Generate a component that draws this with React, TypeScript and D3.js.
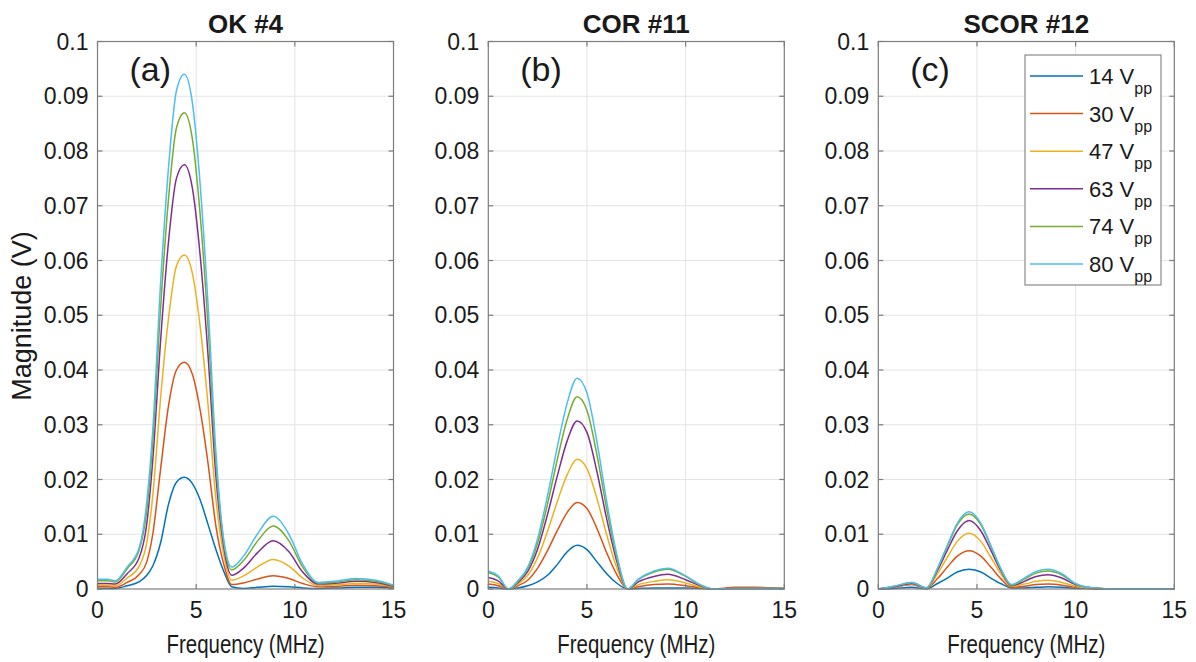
import React from 'react';
import * as d3 from 'd3';

// ---------- data ----------
const SERIES_LABELS = ['14', '30', '47', '63', '74', '80'];
const COLORS = ['#0072BD', '#D95319', '#EDB120', '#7E2F8E', '#77AC30', '#4DBEEE'];
const PANEL_TITLES = ['OK #4', 'COR #11', 'SCOR #12'];
const PANEL_TAGS = ['(a)', '(b)', '(c)'];
const X_TICKS = [0, 5, 10, 15];
const Y_TICKS = [0, 0.01, 0.02, 0.03, 0.04, 0.05, 0.06, 0.07, 0.08, 0.09, 0.1];
const Y_TICK_LABELS = ['0', '0.01', '0.02', '0.03', '0.04', '0.05', '0.06', '0.07', '0.08', '0.09', '0.1'];

// Panel (a) OK #4
const FREQ_A = [0, 0.5, 0.9, 1.5, 2.1, 2.5, 2.8, 3.2, 3.6, 4.0, 4.4, 4.8, 5.2, 5.6, 6.0, 6.4, 6.8, 7.4, 8.1, 8.9, 9.7, 10.4, 11.2, 12.2, 13.1, 14.1, 15];
const OK_14 = [0.0001, 0.0001, 0.0001, 0.0006, 0.0013, 0.0025, 0.0042, 0.0085, 0.0155, 0.0195, 0.0204, 0.0193, 0.0163, 0.0118, 0.0072, 0.0032, 0.0004, 0.0001, 0.0003, 0.0005, 0.0004, 0.0002, 0.0001, 0.0002, 0.0003, 0.0003, 0.0002];
const OK_30 = [0.0004, 0.0004, 0.0003, 0.0012, 0.0026, 0.0050, 0.0100, 0.0220, 0.0335, 0.0400, 0.0414, 0.0393, 0.0327, 0.0230, 0.0115, 0.0045, 0.0008, 0.0011, 0.0018, 0.0024, 0.0019, 0.0010, 0.0004, 0.0005, 0.0007, 0.0006, 0.0003];
const OK_47 = [0.0007, 0.0007, 0.0006, 0.0020, 0.0041, 0.0085, 0.0170, 0.0350, 0.0495, 0.0590, 0.0610, 0.0578, 0.0480, 0.0337, 0.0165, 0.0062, 0.0016, 0.0024, 0.0040, 0.0054, 0.0042, 0.0020, 0.0006, 0.0008, 0.0010, 0.0009, 0.0004];
const OK_63 = [0.0010, 0.0010, 0.0009, 0.0028, 0.0056, 0.0120, 0.0235, 0.0455, 0.0635, 0.0750, 0.0775, 0.0734, 0.0610, 0.0428, 0.0206, 0.0076, 0.0025, 0.0038, 0.0066, 0.0088, 0.0068, 0.0031, 0.0009, 0.0011, 0.0014, 0.0012, 0.0005];
const OK_74 = [0.0015, 0.0015, 0.0013, 0.0037, 0.0070, 0.0145, 0.0268, 0.0515, 0.0713, 0.0842, 0.0870, 0.0824, 0.0685, 0.0481, 0.0231, 0.0084, 0.0035, 0.0052, 0.0087, 0.0115, 0.0088, 0.0040, 0.0011, 0.0013, 0.0017, 0.0014, 0.0006];
const OK_80 = [0.0018, 0.0018, 0.0015, 0.0040, 0.0074, 0.0160, 0.0290, 0.0560, 0.0770, 0.0910, 0.0940, 0.0890, 0.0740, 0.0520, 0.0250, 0.0090, 0.0040, 0.0060, 0.0100, 0.0133, 0.0100, 0.0045, 0.0012, 0.0015, 0.0019, 0.0016, 0.0007];

// Panel (b) COR #11
const FREQ_B = [0, 0.5, 1.03, 1.5, 2.0, 2.5, 3.0, 3.5, 4.0, 4.5, 5.0, 5.5, 6.0, 6.5, 7.06, 7.6, 8.4, 9.1, 10.0, 10.8, 11.4, 12.5, 13.5, 14.5, 15];
const COR_14 = [0.0003, 0.0002, 0, 0.0002, 0.0006, 0.0013, 0.0025, 0.0045, 0.0068, 0.0080, 0.0072, 0.0050, 0.0028, 0.0011, 0, 0.0001, 0.0002, 0.0002, 0.0002, 0.0001, 0, 0.0001, 0.0001, 0.0001, 0.0001];
const COR_30 = [0.0009, 0.0006, 0, 0.0006, 0.0016, 0.0038, 0.0070, 0.0107, 0.0140, 0.0158, 0.0147, 0.0111, 0.0066, 0.0027, 0, 0.0004, 0.0008, 0.0009, 0.0006, 0.0002, 0, 0.0003, 0.0003, 0.0002, 0.0001];
const COR_47 = [0.0014, 0.0010, 0, 0.0009, 0.0025, 0.0057, 0.0105, 0.0160, 0.0209, 0.0237, 0.0220, 0.0166, 0.0099, 0.0040, 0, 0.0008, 0.0014, 0.0017, 0.0011, 0.0003, 0, 0.0001, 0.0001, 0.0001, 0.0001];
const COR_63 = [0.0021, 0.0015, 0, 0.0012, 0.0032, 0.0073, 0.0136, 0.0207, 0.0271, 0.0307, 0.0286, 0.0215, 0.0128, 0.0052, 0, 0.0013, 0.0023, 0.0027, 0.0017, 0.0005, 0, 0.0001, 0.0001, 0.0001, 0.0001];
const COR_74 = [0.0030, 0.0022, 0, 0.0014, 0.0037, 0.0084, 0.0155, 0.0237, 0.0310, 0.0351, 0.0326, 0.0246, 0.0146, 0.0059, 0, 0.0017, 0.0031, 0.0036, 0.0023, 0.0006, 0, 0.0001, 0.0001, 0.0001, 0.0001];
const COR_80 = [0.0033, 0.0024, 0, 0.0015, 0.0040, 0.0092, 0.0170, 0.0260, 0.0340, 0.0385, 0.0358, 0.0270, 0.0160, 0.0065, 0, 0.0018, 0.0033, 0.0038, 0.0024, 0.0007, 0, 0.0001, 0.0001, 0.0001, 0.0001];

// Panel (c) SCOR #12
const FREQ_C = [0, 0.8, 1.7, 2.44, 3.0, 3.5, 4.0, 4.6, 5.2, 5.7, 6.2, 6.75, 7.4, 8.0, 8.6, 9.3, 10.0, 10.6, 11.25, 12, 13, 14, 15];
const SCOR_14 = [0, 0.0001, 0.0003, 0, 0.0010, 0.0020, 0.0031, 0.0036, 0.0031, 0.0020, 0.0010, 0.0002, 0.0002, 0.0003, 0.0004, 0.0003, 0.0001, 0.0001, 0, 0, 0, 0, 0];
const SCOR_30 = [0, 0.0003, 0.0008, 0.0001, 0.0019, 0.0040, 0.0060, 0.0070, 0.0060, 0.0040, 0.0019, 0.0003, 0.0005, 0.0008, 0.0009, 0.0007, 0.0003, 0.0001, 0, 0, 0, 0, 0];
const SCOR_47 = [0, 0.0004, 0.0009, 0.0001, 0.0028, 0.0058, 0.0087, 0.0102, 0.0087, 0.0058, 0.0028, 0.0005, 0.0009, 0.0014, 0.0016, 0.0012, 0.0005, 0.0002, 0.0001, 0, 0, 0, 0];
const SCOR_63 = [0, 0.0004, 0.0010, 0.0002, 0.0034, 0.0071, 0.0106, 0.0125, 0.0106, 0.0071, 0.0034, 0.0006, 0.0014, 0.0023, 0.0026, 0.0020, 0.0008, 0.0003, 0.0001, 0, 0, 0, 0];
const SCOR_74 = [0, 0.0005, 0.0012, 0.0002, 0.0037, 0.0078, 0.0117, 0.0137, 0.0117, 0.0078, 0.0037, 0.0007, 0.0018, 0.0029, 0.0033, 0.0026, 0.0009, 0.0003, 0.0001, 0, 0, 0, 0];
const SCOR_80 = [0, 0.0005, 0.0012, 0.0002, 0.0038, 0.0080, 0.0120, 0.0141, 0.0120, 0.0080, 0.0038, 0.0008, 0.0020, 0.0032, 0.0036, 0.0028, 0.0010, 0.0003, 0.0001, 0, 0, 0, 0];

const PANELS = [
  { freq: FREQ_A, series: [OK_14, OK_30, OK_47, OK_63, OK_74, OK_80] },
  { freq: FREQ_B, series: [COR_14, COR_30, COR_47, COR_63, COR_74, COR_80] },
  { freq: FREQ_C, series: [SCOR_14, SCOR_30, SCOR_47, SCOR_63, SCOR_74, SCOR_80] },
];

// ---------- layout ----------
const W = 1196;
const H = 662;
const PANEL_LEFTS = [97.5, 488.3, 878.3];
const PANEL_W = 296;
const TOP = 41.5;
const BOTTOM = 589;
const FONT = "'Liberation Sans', Arial, Helvetica, sans-serif";
const AXIS_COLOR = '#7d7d7d';
const GRID_COLOR = '#e4e4e4';
const TEXT_COLOR = '#1a1a1a';

function Panel({ idx }: { idx: number }) {
  const left = PANEL_LEFTS[idx];
  const right = left + PANEL_W;
  const x = d3.scaleLinear().domain([0, 15]).range([left, right]);
  const y = d3.scaleLinear().domain([0, 0.1]).range([BOTTOM, TOP]);
  const panel = PANELS[idx];
  const line = d3
    .line<number>()
    .x((_, i) => x(panel.freq[i]))
    .y((d) => y(d))
    .curve(d3.curveMonotoneX);
  const tickLen = 5;
  return (
    <g>
      {X_TICKS.filter((t) => t > 0 && t < 15).map((t) => (
        <line key={'gx' + t} x1={x(t)} x2={x(t)} y1={TOP} y2={BOTTOM} stroke={GRID_COLOR} strokeWidth={1} />
      ))}
      {Y_TICKS.filter((t) => t > 0 && t < 0.1).map((t) => (
        <line key={'gy' + t} x1={left} x2={right} y1={y(t)} y2={y(t)} stroke={GRID_COLOR} strokeWidth={1} />
      ))}
      {panel.series.map((s, i) => (
        <path key={'s' + i} d={line(s) || ''} fill="none" stroke={COLORS[i]} strokeWidth={1.5} />
      ))}
      <rect x={left} y={TOP} width={PANEL_W} height={BOTTOM - TOP} fill="none" stroke={AXIS_COLOR} strokeWidth={1.2} />
      {X_TICKS.map((t) => (
        <g key={'tx' + t}>
          <line x1={x(t)} x2={x(t)} y1={BOTTOM} y2={BOTTOM - tickLen} stroke={AXIS_COLOR} strokeWidth={1.2} />
          <line x1={x(t)} x2={x(t)} y1={TOP} y2={TOP + tickLen} stroke={AXIS_COLOR} strokeWidth={1.2} />
          <text x={x(t)} y={618} textAnchor="middle" fontSize={23} fontFamily={FONT} fill={TEXT_COLOR}>
            {t}
          </text>
        </g>
      ))}
      {Y_TICKS.map((t, i) => (
        <g key={'ty' + i}>
          <line x1={left} x2={left + tickLen} y1={y(t)} y2={y(t)} stroke={AXIS_COLOR} strokeWidth={1.2} />
          <line x1={right} x2={right - tickLen} y1={y(t)} y2={y(t)} stroke={AXIS_COLOR} strokeWidth={1.2} />
          <text x={left - 9} y={y(t) + 8} textAnchor="end" fontSize={23} fontFamily={FONT} fill={TEXT_COLOR}>
            {Y_TICK_LABELS[i]}
          </text>
        </g>
      ))}
      <text x={(left + right) / 2} y={33} textAnchor="middle" fontSize={26} fontWeight="bold" fontFamily={FONT} fill={TEXT_COLOR}>
        {PANEL_TITLES[idx]}
      </text>
      <text x={left + 32} y={81} fontSize={34} fontFamily={FONT} fill={TEXT_COLOR}>
        {PANEL_TAGS[idx]}
      </text>
      <text x={(left + right) / 2} y={653} textAnchor="middle" fontSize={26} fontFamily={FONT} fill={TEXT_COLOR} textLength={158} lengthAdjust="spacingAndGlyphs">
        Frequency (MHz)
      </text>
    </g>
  );
}

function Legend() {
  const lx = 1025;
  const ly = 55;
  const lw = 136;
  const lh = 230;
  const step = 37.6;
  return (
    <g>
      <rect x={lx} y={ly} width={lw} height={lh} fill="#ffffff" stroke="#8a8a8a" strokeWidth={1.2} />
      {SERIES_LABELS.map((lab, i) => {
        const cy = ly + 21 + i * step;
        return (
          <g key={'lg' + i}>
            <line x1={lx + 5} x2={lx + 58} y1={cy} y2={cy} stroke={COLORS[i]} strokeWidth={1.5} />
            <text x={lx + 64} y={cy + 8} fontSize={22} fontFamily={FONT} fill={TEXT_COLOR}>
              <tspan>{lab} V</tspan>
              <tspan dy={10} fontSize={16}>pp</tspan>
            </text>
          </g>
        );
      })}
    </g>
  );
}

export default function App() {
  return (
    <svg
      width={W}
      height={H}
      viewBox={`0 0 ${W} ${H}`}
      style={{ position: 'absolute', left: 0, top: 0, background: '#ffffff' }}
    >
      <rect x={0} y={0} width={W} height={H} fill="#ffffff" />
      {[0, 1, 2].map((i) => (
        <Panel key={i} idx={i} />
      ))}
      <Legend />
      <text
        transform={`translate(31, 316) rotate(-90)`}
        textAnchor="middle"
        fontSize={27}
        fontFamily={FONT}
        fill={TEXT_COLOR}
      >
        Magnitude (V)
      </text>
    </svg>
  );
}
